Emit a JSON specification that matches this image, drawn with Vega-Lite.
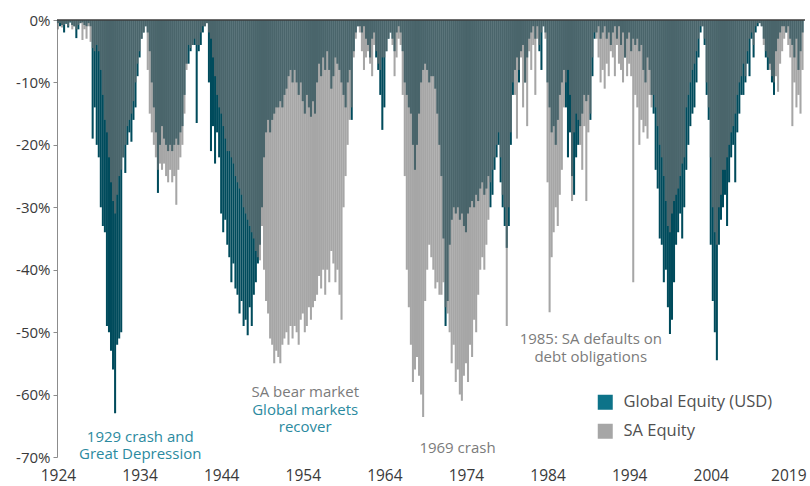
{
  "$schema": "https://vega.github.io/schema/vega-lite/v6.json",
  "width": 748,
  "height": 437,
  "autosize": "none",
  "padding": {"left": 57, "top": 20, "right": 5, "bottom": 29},
  "background": "white",
  "config": {"font": "Open Sans", "view": {"stroke": null}, "axis": {"grid": false}, "scale": {"continuousPadding": 0}},
  "datasets": {
    "drawdowns": [
      {"t":1924,"g":-0.5,"s":-1.5},{"t":1924.25,"g":-1.0,"s":-0.5},{"t":1924.5,"g":-0.8,"s":-1.2},{"t":1924.75,"g":-2.0,"s":-0.8},
      {"t":1925,"g":-0.6,"s":-0.5},{"t":1925.25,"g":-1.2,"s":-1.0},{"t":1925.5,"g":-0.4,"s":-0.3},{"t":1925.75,"g":-0.8,"s":-1.5},
      {"t":1926,"g":-1.0,"s":-1.0},{"t":1926.25,"g":-2.9,"s":-1.5},{"t":1926.5,"g":-1.5,"s":-0.8},{"t":1926.75,"g":-0.5,"s":-0.5},
      {"t":1927,"g":-0.4,"s":-3.2},{"t":1927.25,"g":-0.8,"s":-1.5},{"t":1927.5,"g":-1.0,"s":-3.0},{"t":1927.75,"g":-0.5,"s":-1.0},
      {"t":1928,"g":-1.0,"s":-3.5},{"t":1928.25,"g":-19,"s":-4.5},{"t":1928.5,"g":-14,"s":-5},{"t":1928.75,"g":-20,"s":-4},
      {"t":1929,"g":-22,"s":-5},{"t":1929.25,"g":-30,"s":-8},{"t":1929.5,"g":-33,"s":-12},{"t":1929.75,"g":-34,"s":-16},
      {"t":1930,"g":-49,"s":-18},{"t":1930.25,"g":-50,"s":-22},{"t":1930.5,"g":-53,"s":-26},{"t":1930.75,"g":-56,"s":-29},
      {"t":1931,"g":-63,"s":-31},{"t":1931.25,"g":-52,"s":-28},{"t":1931.5,"g":-51,"s":-25},{"t":1931.75,"g":-50,"s":-24},
      {"t":1932,"g":-22,"s":-22},{"t":1932.25,"g":-24.5,"s":-20},{"t":1932.5,"g":-20,"s":-17},{"t":1932.75,"g":-18,"s":-16},
      {"t":1933,"g":-19.5,"s":-15},{"t":1933.25,"g":-16,"s":-13},{"t":1933.5,"g":-14,"s":-10},{"t":1933.75,"g":-9,"s":-7},
      {"t":1934,"g":-6,"s":-5},{"t":1934.25,"g":-3,"s":-3},{"t":1934.5,"g":-2,"s":-2},{"t":1934.75,"g":-1,"s":-1},
      {"t":1935,"g":-2,"s":-8},{"t":1935.25,"g":-5,"s":-15},{"t":1935.5,"g":-10,"s":-18},{"t":1935.75,"g":-14,"s":-20},
      {"t":1936,"g":-18,"s":-22},{"t":1936.25,"g":-27.7,"s":-24},{"t":1936.5,"g":-20,"s":-23},{"t":1936.75,"g":-17,"s":-24},
      {"t":1937,"g":-19,"s":-23},{"t":1937.25,"g":-20,"s":-25},{"t":1937.5,"g":-21,"s":-26},{"t":1937.75,"g":-20,"s":-24},
      {"t":1938,"g":-21,"s":-26},{"t":1938.25,"g":-20,"s":-25},{"t":1938.5,"g":-19,"s":-29.6},{"t":1938.75,"g":-20,"s":-24},
      {"t":1939,"g":-18,"s":-22},{"t":1939.25,"g":-17,"s":-20},{"t":1939.5,"g":-12,"s":-15},{"t":1939.75,"g":-7,"s":-8},
      {"t":1940,"g":-7,"s":-4},{"t":1940.25,"g":-5,"s":-4.5},{"t":1940.5,"g":-4,"s":-4},{"t":1940.75,"g":-4,"s":-3},
      {"t":1941,"g":-16.5,"s":-4},{"t":1941.25,"g":-5,"s":-4},{"t":1941.5,"g":-4,"s":-2},{"t":1941.75,"g":-2,"s":-1},
      {"t":1942,"g":-1,"s":-1},{"t":1942.25,"g":-0.5,"s":-0.5},{"t":1942.5,"g":-10,"s":-2},{"t":1942.75,"g":-21,"s":-3},
      {"t":1943,"g":-17,"s":-6},{"t":1943.25,"g":-23,"s":-9},{"t":1943.5,"g":-18,"s":-12},{"t":1943.75,"g":-22,"s":-14},
      {"t":1944,"g":-31,"s":-15},{"t":1944.25,"g":-34,"s":-17},{"t":1944.5,"g":-32,"s":-19},{"t":1944.75,"g":-36,"s":-21},
      {"t":1945,"g":-38,"s":-21},{"t":1945.25,"g":-42,"s":-22},{"t":1945.5,"g":-39,"s":-23},{"t":1945.75,"g":-43,"s":-25},
      {"t":1946,"g":-44,"s":-26},{"t":1946.25,"g":-47,"s":-27},{"t":1946.5,"g":-45,"s":-28},{"t":1946.75,"g":-49,"s":-30},
      {"t":1947,"g":-48,"s":-31},{"t":1947.25,"g":-50.5,"s":-32},{"t":1947.5,"g":-46,"s":-33},{"t":1947.75,"g":-49,"s":-34},
      {"t":1948,"g":-44,"s":-35},{"t":1948.25,"g":-42,"s":-37},{"t":1948.5,"g":-39,"s":-38},{"t":1948.75,"g":-36,"s":-38.5},
      {"t":1949,"g":-30,"s":-33},{"t":1949.25,"g":-22,"s":-40},{"t":1949.5,"g":-18,"s":-45},{"t":1949.75,"g":-16,"s":-47},
      {"t":1950,"g":-18,"s":-51},{"t":1950.25,"g":-16,"s":-52},{"t":1950.5,"g":-15,"s":-55},{"t":1950.75,"g":-14,"s":-53},
      {"t":1951,"g":-14,"s":-54},{"t":1951.25,"g":-13,"s":-55},{"t":1951.5,"g":-14,"s":-52},{"t":1951.75,"g":-12,"s":-51},
      {"t":1952,"g":-11,"s":-50},{"t":1952.25,"g":-9,"s":-52},{"t":1952.5,"g":-8,"s":-49},{"t":1952.75,"g":-10,"s":-51},
      {"t":1953,"g":-8,"s":-49},{"t":1953.25,"g":-10,"s":-50},{"t":1953.5,"g":-12,"s":-52},{"t":1953.75,"g":-10,"s":-48},
      {"t":1954,"g":-13,"s":-47},{"t":1954.25,"g":-15,"s":-50},{"t":1954.5,"g":-12,"s":-49},{"t":1954.75,"g":-14,"s":-46},
      {"t":1955,"g":-15.5,"s":-48},{"t":1955.25,"g":-13,"s":-46},{"t":1955.5,"g":-15,"s":-45},{"t":1955.75,"g":-10,"s":-44},
      {"t":1956,"g":-7,"s":-41},{"t":1956.25,"g":-9,"s":-43},{"t":1956.5,"g":-6,"s":-40},{"t":1956.75,"g":-8,"s":-44},
      {"t":1957,"g":-5,"s":-40},{"t":1957.25,"g":-8,"s":-42},{"t":1957.5,"g":-11,"s":-37},{"t":1957.75,"g":-9,"s":-39},
      {"t":1958,"g":-6,"s":-42},{"t":1958.25,"g":-7,"s":-40},{"t":1958.5,"g":-8,"s":-44},{"t":1958.75,"g":-10,"s":-48},
      {"t":1959,"g":-12,"s":-30},{"t":1959.25,"g":-14,"s":-25},{"t":1959.5,"g":-10,"s":-20},{"t":1959.75,"g":-8,"s":-16},
      {"t":1960,"g":-16,"s":-14},{"t":1960.25,"g":-5,"s":-6},{"t":1960.5,"g":-2,"s":-3},{"t":1960.75,"g":-1,"s":-1},
      {"t":1961,"g":-1,"s":-2},{"t":1961.25,"g":-2,"s":-5},{"t":1961.5,"g":-1,"s":-8},{"t":1961.75,"g":-3,"s":-6},
      {"t":1962,"g":-4,"s":-5},{"t":1962.25,"g":-6,"s":-7},{"t":1962.5,"g":-3,"s":-9},{"t":1962.75,"g":-2,"s":-4},
      {"t":1963,"g":-6,"s":-5},{"t":1963.25,"g":-8,"s":-7},{"t":1963.5,"g":-12,"s":-8},{"t":1963.75,"g":-17.6,"s":-6},
      {"t":1964,"g":-14,"s":-6},{"t":1964.25,"g":-5,"s":-5},{"t":1964.5,"g":-3,"s":-3},{"t":1964.75,"g":-2,"s":-2},
      {"t":1965,"g":-3,"s":-4},{"t":1965.25,"g":-5,"s":-9},{"t":1965.5,"g":-2,"s":-6},{"t":1965.75,"g":-1,"s":-3},
      {"t":1966,"g":-2,"s":-4},{"t":1966.25,"g":-5,"s":-12},{"t":1966.5,"g":-10,"s":-25},{"t":1966.75,"g":-12,"s":-40},
      {"t":1967,"g":-14,"s":-46},{"t":1967.25,"g":-15,"s":-52},{"t":1967.5,"g":-20,"s":-58},{"t":1967.75,"g":-24,"s":-56},
      {"t":1968,"g":-20,"s":-54},{"t":1968.25,"g":-15,"s":-57},{"t":1968.5,"g":-10,"s":-60},{"t":1968.75,"g":-8,"s":-63.6},
      {"t":1969,"g":-7,"s":-45},{"t":1969.25,"g":-8,"s":-40},{"t":1969.5,"g":-10,"s":-36},{"t":1969.75,"g":-9,"s":-38},
      {"t":1970,"g":-9,"s":-40},{"t":1970.25,"g":-11,"s":-43},{"t":1970.5,"g":-15,"s":-42},{"t":1970.75,"g":-20,"s":-44},
      {"t":1971,"g":-25,"s":-44},{"t":1971.25,"g":-35,"s":-42},{"t":1971.5,"g":-49,"s":-46},{"t":1971.75,"g":-45,"s":-47},
      {"t":1972,"g":-36,"s":-50},{"t":1972.25,"g":-32,"s":-55},{"t":1972.5,"g":-30,"s":-52},{"t":1972.75,"g":-31,"s":-58},
      {"t":1973,"g":-30,"s":-56},{"t":1973.25,"g":-32,"s":-60},{"t":1973.5,"g":-31,"s":-61},{"t":1973.75,"g":-33,"s":-57},
      {"t":1974,"g":-34,"s":-55},{"t":1974.25,"g":-31,"s":-58},{"t":1974.5,"g":-30,"s":-52},{"t":1974.75,"g":-29,"s":-54},
      {"t":1975,"g":-30,"s":-48},{"t":1975.25,"g":-28,"s":-50},{"t":1975.5,"g":-29,"s":-44},{"t":1975.75,"g":-27,"s":-40},
      {"t":1976,"g":-26,"s":-38},{"t":1976.25,"g":-28,"s":-40},{"t":1976.5,"g":-27,"s":-36},{"t":1976.75,"g":-25,"s":-32},
      {"t":1977,"g":-30,"s":-26},{"t":1977.25,"g":-28,"s":-24},{"t":1977.5,"g":-24,"s":-22},{"t":1977.75,"g":-22,"s":-20},
      {"t":1978,"g":-20,"s":-18},{"t":1978.25,"g":-26,"s":-22},{"t":1978.5,"g":-30,"s":-28},{"t":1978.75,"g":-33,"s":-30},
      {"t":1979,"g":-36.5,"s":-49},{"t":1979.25,"g":-33,"s":-30},{"t":1979.5,"g":-20,"s":-18},{"t":1979.75,"g":-12,"s":-10},
      {"t":1980,"g":-8,"s":-12},{"t":1980.25,"g":-6,"s":-19},{"t":1980.5,"g":-10,"s":-8},{"t":1980.75,"g":-5,"s":-6},
      {"t":1981,"g":-4,"s":-14},{"t":1981.25,"g":-10,"s":-10},{"t":1981.5,"g":-6,"s":-17},{"t":1981.75,"g":-3,"s":-5},
      {"t":1982,"g":-2,"s":-8},{"t":1982.25,"g":-1,"s":-4},{"t":1982.5,"g":-3,"s":-12},{"t":1982.75,"g":-1,"s":-3},
      {"t":1983,"g":-5,"s":-4},{"t":1983.25,"g":-8,"s":-2},{"t":1983.5,"g":-1,"s":-1},{"t":1983.75,"g":-2,"s":-3},
      {"t":1984,"g":-10,"s":-26},{"t":1984.25,"g":-14,"s":-46.8},{"t":1984.5,"g":-18,"s":-38},{"t":1984.75,"g":-17,"s":-34},
      {"t":1985,"g":-20,"s":-30},{"t":1985.25,"g":-16,"s":-33},{"t":1985.5,"g":-12,"s":-28},{"t":1985.75,"g":-10,"s":-24},
      {"t":1986,"g":-8,"s":-14},{"t":1986.25,"g":-14,"s":-10},{"t":1986.5,"g":-22,"s":-8},{"t":1986.75,"g":-18,"s":-12},
      {"t":1987,"g":-25,"s":-29},{"t":1987.25,"g":-28,"s":-18},{"t":1987.5,"g":-22,"s":-15},{"t":1987.75,"g":-20,"s":-16},
      {"t":1988,"g":-17,"s":-20},{"t":1988.25,"g":-15,"s":-24},{"t":1988.5,"g":-12,"s":-17},{"t":1988.75,"g":-13,"s":-29},
      {"t":1989,"g":-12,"s":-18},{"t":1989.25,"g":-16,"s":-15},{"t":1989.5,"g":-9,"s":-6},{"t":1989.75,"g":-3,"s":-2},
      {"t":1990,"g":-2,"s":-3},{"t":1990.25,"g":-1,"s":-6},{"t":1990.5,"g":-3,"s":-10},{"t":1990.75,"g":-2,"s":-8},
      {"t":1991,"g":-1,"s":-11},{"t":1991.25,"g":-3,"s":-7},{"t":1991.5,"g":-2,"s":-9},{"t":1991.75,"g":-4,"s":-5},
      {"t":1992,"g":-2,"s":-6},{"t":1992.25,"g":-1,"s":-9},{"t":1992.5,"g":-3,"s":-4},{"t":1992.75,"g":-1,"s":-7},
      {"t":1993,"g":-4,"s":-8},{"t":1993.25,"g":-2,"s":-10},{"t":1993.5,"g":-6,"s":-6},{"t":1993.75,"g":-3,"s":-9},
      {"t":1994,"g":-2,"s":-7},{"t":1994.25,"g":-5,"s":-9},{"t":1994.5,"g":-3,"s":-42},{"t":1994.75,"g":-4,"s":-12},
      {"t":1995,"g":-3,"s":-14},{"t":1995.25,"g":-5,"s":-20},{"t":1995.5,"g":-4,"s":-16},{"t":1995.75,"g":-8,"s":-18},
      {"t":1996,"g":-10,"s":-17},{"t":1996.25,"g":-6,"s":-19},{"t":1996.5,"g":-8,"s":-12},{"t":1996.75,"g":-12,"s":-14},
      {"t":1997,"g":-15,"s":-12},{"t":1997.25,"g":-24,"s":-14},{"t":1997.5,"g":-27,"s":-17},{"t":1997.75,"g":-35,"s":-20},
      {"t":1998,"g":-36,"s":-22},{"t":1998.25,"g":-42,"s":-25},{"t":1998.5,"g":-40,"s":-29},{"t":1998.75,"g":-46,"s":-33},
      {"t":1999,"g":-50.3,"s":-34},{"t":1999.25,"g":-48,"s":-31},{"t":1999.5,"g":-42,"s":-29},{"t":1999.75,"g":-36,"s":-28},
      {"t":2000,"g":-34,"s":-27},{"t":2000.25,"g":-31,"s":-25},{"t":2000.5,"g":-35,"s":-23},{"t":2000.75,"g":-30,"s":-22},
      {"t":2001,"g":-24,"s":-14},{"t":2001.25,"g":-20,"s":-12},{"t":2001.5,"g":-17,"s":-10},{"t":2001.75,"g":-15,"s":-8},
      {"t":2002,"g":-14,"s":-7},{"t":2002.25,"g":-10,"s":-5},{"t":2002.5,"g":-6,"s":-3},{"t":2002.75,"g":-2,"s":-1},
      {"t":2003,"g":-1,"s":-1},{"t":2003.25,"g":-4,"s":-3},{"t":2003.5,"g":-12,"s":-10},{"t":2003.75,"g":-16,"s":-14},
      {"t":2004,"g":-36,"s":-22},{"t":2004.25,"g":-45,"s":-30},{"t":2004.5,"g":-50,"s":-34},{"t":2004.75,"g":-54.5,"s":-36},
      {"t":2005,"g":-36,"s":-30},{"t":2005.25,"g":-32,"s":-28},{"t":2005.5,"g":-30,"s":-24},{"t":2005.75,"g":-28,"s":-24},
      {"t":2006,"g":-33,"s":-22},{"t":2006.25,"g":-26,"s":-20},{"t":2006.5,"g":-22,"s":-18},{"t":2006.75,"g":-20,"s":-17},
      {"t":2007,"g":-26,"s":-15},{"t":2007.25,"g":-18,"s":-12},{"t":2007.5,"g":-15,"s":-10},{"t":2007.75,"g":-12,"s":-9},
      {"t":2008,"g":-12,"s":-7},{"t":2008.25,"g":-10,"s":-9},{"t":2008.5,"g":-7,"s":-5},{"t":2008.75,"g":-9,"s":-3},
      {"t":2009,"g":-3,"s":-2},{"t":2009.25,"g":-6,"s":-4},{"t":2009.5,"g":-2,"s":-1},{"t":2009.75,"g":-1,"s":-0.5},
      {"t":2010,"g":-0.5,"s":-0.5},{"t":2010.25,"g":-1,"s":-1},{"t":2010.5,"g":-3,"s":-4},{"t":2010.75,"g":-6,"s":-5},
      {"t":2011,"g":-8,"s":-6},{"t":2011.25,"g":-7,"s":-8},{"t":2011.5,"g":-10,"s":-9},{"t":2011.75,"g":-12,"s":-10},
      {"t":2012,"g":-5,"s":-9},{"t":2012.25,"g":-3,"s":-11.5},{"t":2012.5,"g":-2,"s":-7},{"t":2012.75,"g":-1,"s":-5},
      {"t":2013,"g":-1,"s":-3},{"t":2013.25,"g":-2,"s":-2},{"t":2013.5,"g":-1,"s":-4},{"t":2013.75,"g":-3,"s":-6},
      {"t":2014,"g":-4,"s":-17},{"t":2014.25,"g":-6,"s":-10},{"t":2014.5,"g":-3,"s":-14},{"t":2014.75,"g":-8,"s":-12},
      {"t":2015,"g":-5,"s":-15},{"t":2015.25,"g":-2,"s":-8}
    ],
    "globalNotes": [
      {"t":1934.08,"v":-66.8,"label":"1929 crash  and\nGreat Depression"},
      {"t":1954.3,"v":-62.47,"label":"Global markets\nrecover"}
    ],
    "saNotes": [
      {"t":1954.3,"v":-59.59,"label":"SA bear market"},
      {"t":1972.96,"v":-68.56,"label":"1969 crash"},
      {"t":1989.3,"v":-51.1,"label":"1985: SA defaults on\ndebt obligations"}
    ]
  },
  "layer": [
    {
      "data": {"name": "drawdowns"},
      "mark": {"type": "bar", "size": 2.04, "color": "#004b5c"},
      "encoding": {
        "x": {
          "field": "t", "type": "quantitative",
          "scale": {"domain": [1923.88, 2015.55], "nice": false, "zero": false, "padding": 0},
          "axis": {
            "title": null,
            "values": [1924, 1934, 1944, 1954, 1964, 1974, 1984, 1994, 2004, 2013.5],
            "labelExpr": "datum.value > 2010 ? '2019' : format(datum.value, 'd')",
            "domain": false, "ticks": false, "grid": false,
            "labelFontSize": 15.5, "labelColor": "#3a3a3a", "labelPadding": 11,
            "labelOverlap": false, "labelBound": false, "labelFlush": false
          }
        },
        "y": {
          "field": "g", "type": "quantitative", "stack": null,
          "scale": {"domain": [-70, 0], "nice": false},
          "axis": {
            "title": null,
            "values": [0, -10, -20, -30, -40, -50, -60, -70],
            "labelExpr": "datum.value + '%'",
            "domainColor": "#8c8c8c", "tickColor": "#8c8c8c", "tickSize": 4,
            "labelFontSize": 15, "labelColor": "#3a3a3a", "labelPadding": 3, "grid": false
          }
        }
      }
    },
    {
      "data": {"name": "drawdowns"},
      "mark": {"type": "bar", "size": 2.04, "color": "#737373", "opacity": 0.64},
      "encoding": {
        "x": {"field": "t", "type": "quantitative"},
        "y": {"field": "s", "type": "quantitative", "stack": null}
      }
    },
    {
      "data": {"values": []},
      "mark": {"type": "square", "filled": true, "opacity": 1},
      "encoding": {
        "color": {
          "field": "series", "type": "nominal",
          "scale": {"domain": ["Global Equity (USD)", "SA Equity"], "range": ["#0d7389", "#a6a6a6"]},
          "legend": {
            "title": null, "orient": "none", "legendX": 540, "legendY": 374,
            "symbolType": "square", "symbolSize": 225, "symbolStrokeWidth": 0, "symbolOpacity": 1,
            "labelFontSize": 16.5, "labelColor": "#505050", "labelOffset": 10, "rowPadding": 12
          }
        }
      }
    },
    {
      "data": {"values": [{}]},
      "mark": {"type": "rule", "color": "#3d3d3d", "strokeWidth": 1.5},
      "encoding": {"y": {"datum": 0}}
    },
    {
      "data": {"name": "globalNotes"},
      "mark": {"type": "text", "align": "center", "baseline": "middle", "fontSize": 15, "lineHeight": 17, "lineBreak": "\n", "color": "#2b8aa0"},
      "encoding": {
        "x": {"field": "t", "type": "quantitative"},
        "y": {"field": "v", "type": "quantitative"},
        "text": {"field": "label"}
      }
    },
    {
      "data": {"name": "saNotes"},
      "mark": {"type": "text", "align": "center", "baseline": "middle", "fontSize": 15, "lineHeight": 18, "lineBreak": "\n", "color": "#7b7b7b"},
      "encoding": {
        "x": {"field": "t", "type": "quantitative"},
        "y": {"field": "v", "type": "quantitative"},
        "text": {"field": "label"}
      }
    }
  ]
}
